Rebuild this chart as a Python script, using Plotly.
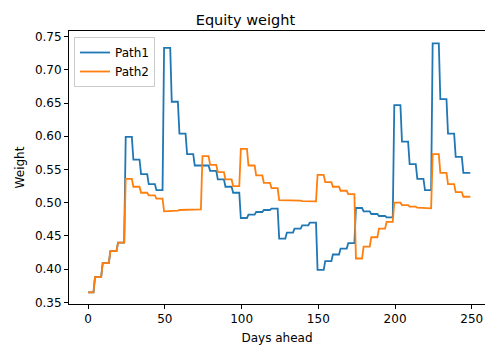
import plotly.graph_objects as go

# ---- data ----
# each value holds for one 5-day block, blocks start at these days
block_start = list(range(0, 250, 5))
last_day = 249

path1 = [0.365, 0.388, 0.409, 0.427, 0.440,
         0.599, 0.565, 0.543, 0.528, 0.519,
         0.733, 0.652, 0.604, 0.573, 0.556,
         0.556, 0.548, 0.535, 0.524, 0.515,
         0.477, 0.482, 0.486, 0.489, 0.491,
         0.446, 0.455, 0.461, 0.466, 0.470,
         0.399, 0.412, 0.422, 0.431, 0.439,
         0.492, 0.487, 0.483, 0.480, 0.478,
         0.647, 0.592, 0.558, 0.536, 0.519,
         0.740, 0.656, 0.604, 0.569, 0.545]

path2 = [0.365, 0.388, 0.409, 0.427, 0.440,
         0.536, 0.524, 0.515, 0.511, 0.506,
         0.487, 0.488, 0.489, 0.4895, 0.490,
         0.570, 0.557, 0.546, 0.535, 0.525,
         0.581, 0.556, 0.541, 0.530, 0.522,
         0.504, 0.5035, 0.503, 0.5025, 0.502,
         0.542, 0.531, 0.524, 0.518, 0.513,
         0.416, 0.434, 0.448, 0.461, 0.471,
         0.500, 0.4965, 0.494, 0.4925, 0.4915,
         0.573, 0.545, 0.528, 0.516, 0.509]

series_names = ["Path1", "Path2"]
series_colors = ["#1f77b4", "#ff7f0e"]
x_ticks = [0, 50, 100, 150, 200, 250]
y_ticks = [0.35, 0.40, 0.45, 0.50, 0.55, 0.60, 0.65, 0.70, 0.75]


def step_points(values):
    xs, ys = [], []
    n = len(values)
    for i, v in enumerate(values):
        s = block_start[i]
        a = 0 if i == 0 else s - 0.5
        b = last_day if i == n - 1 else block_start[i + 1] - 1.5
        xs += [a, b]
        ys += [v, v]
    return xs, ys


fig = go.Figure()
for name, vals, col in zip(series_names, [path1, path2], series_colors):
    xs, ys = step_points(vals)
    fig.add_trace(go.Scatter(x=xs, y=ys, mode="lines", name=name,
                             line=dict(color=col, width=1.8)))

font = "DejaVu Sans"
fig.update_layout(
    width=485, height=346,
    margin=dict(l=69, r=0, t=31, b=42),
    paper_bgcolor="white", plot_bgcolor="white",
    font=dict(family=font, size=12, color="black"),
    title=dict(text="Equity weight", x=0.506, xanchor="center",
               y=1 - 19.5 / 346, yanchor="middle", yref="container",
               font=dict(family=font, size=14.5, color="black")),
    legend=dict(x=0.012, y=0.978, xanchor="left", yanchor="top",
                bgcolor="rgba(255,255,255,0.8)", bordercolor="#cccccc",
                borderwidth=1, font=dict(size=12), tracegroupgap=0),
    showlegend=True,
)
fig.update_xaxes(range=[-12.45, 258.6], tickvals=x_ticks,
                 ticks="outside", ticklen=4, tickwidth=1, tickcolor="black",
                 showline=True, linecolor="black", linewidth=1, mirror=True,
                 showgrid=False, zeroline=False,
                 title=dict(text="Days ahead", standoff=8,
                            font=dict(size=12)))
fig.update_yaxes(range=[0.3475, 0.7585], tickvals=y_ticks, tickformat=".2f",
                 ticks="outside", ticklen=4, tickwidth=1, tickcolor="black",
                 showline=True, linecolor="black", linewidth=1, mirror=False,
                 showgrid=False, zeroline=False,
                 title=dict(text="Weight", standoff=7, font=dict(size=12)))

fig.write_html("out.html")
